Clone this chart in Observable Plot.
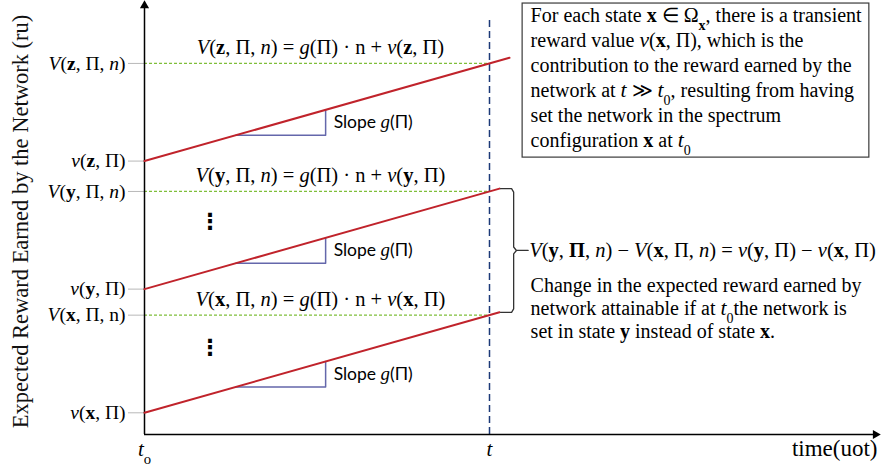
<!DOCTYPE html>
<html>
<head>
<meta charset="utf-8">
<script src="https://cdn.jsdelivr.net/npm/d3@7"></script>
<script src="https://cdn.jsdelivr.net/npm/@observablehq/plot@0.6"></script>
<style>
  html, body { margin: 0; padding: 0; background: #fff; }
  #chart svg { display: block; }
</style>
</head>
<body>
<div id="chart"></div>
<script>
// Network states, their transient reward values v(s, Π) and the common gain g(Π)
const states = ["z", "y", "x"];
const transientValue = [6.3, 3.35, 0.5];
const gain = 2.25;
const lineEnd = [1.058, 1.029, 1.029];

// Rich-text labels: [i:..] italic, [b:..] bold, [m:..] math italic, [sub:..] / [sb:..] subscripts
const levelLabelsV = ["[i:V]([b:z], Π, [i:n])", "[i:V]([b:y], Π, [i:n])", "[i:V]([b:x], Π, n)"];
const levelLabelsv = ["[i:v]([b:z], Π)", "[i:v]([b:y], Π)", "[i:v]([b:x], Π)"];
const equationLabels = [
  "[i:V]([b:z], Π, [i:n]) = [i:g](Π) · n + [i:v]([b:z], Π)",
  "[i:V]([b:y], Π, [i:n]) = [i:g](Π) · n + [i:v]([b:y], Π)",
  "[i:V]([b:x], Π, [i:n]) = [i:g](Π) · n + [i:v]([b:x], Π)"
];
const timeTicks = [0, 1];
const timeTickLabels = ["[i:t][sub:o]", "[i:t]"];
const ellipsisY = [4.9, 2.0];

const noteText = [
  "For each state [b:x] ∈ Ω[sb:x], there is a transient",
  "reward value [m:v]([b:x], Π), which is the",
  "contribution to the reward earned by the",
  "network at [m:t] ≫ [m:t][sub:0], resulting from having",
  "set the network in the spectrum",
  "configuration [b:x] at [m:t][sub:0]"
].join("\n");
const differenceLabel = "[i:V]([b:y], [b:Π], [i:n]) − [i:V]([b:x], Π, [i:n]) = [i:v]([b:y], Π) − [i:v]([b:x], Π)";
const differenceText = [
  "Change in the expected reward earned by",
  "network attainable if at [m:t][sub:0]the network is",
  "set in state [b:y] instead of state [b:x]."
].join("\n");

const rows = states.map((s, i) => ({
  s,
  v: transientValue[i],
  V: transientValue[i] + gain * 1,
  end: lineEnd[i],
  Vlabel: levelLabelsV[i],
  vlabel: levelLabelsv[i],
  eq: equationLabels[i]
}));

const value = (r, t) => r.v + gain * t;

// reward lines from t0 past t
const linePts = rows.flatMap(r => [
  {s: r.s, t: 0, y: r.v},
  {s: r.s, t: r.end, y: value(r, r.end)}
]);

// slope triangles under each line
const ta = 0.265, tb = 0.525;
const trianglePts = rows.flatMap(r => [
  {s: r.s, t: ta, y: value(r, ta)},
  {s: r.s, t: tb, y: value(r, ta)},
  {s: r.s, t: tb, y: value(r, tb)}
]);

// y-axis ticks at every V and v level
const tickValues = rows.flatMap(r => [r.V, r.v]);
const tickText = new Map(rows.flatMap(r => [[r.V, r.Vlabel], [r.v, r.vlabel]]));

// brace spanning the y and x lines at their ends
const rowY = rows[1], rowX = rows[2];
const braceTop = value(rowY, rowY.end);
const braceBot = value(rowX, rowX.end);
const braceMid = (braceTop + braceBot) / 2;
const bracePts = [
  {t: 1.032, y: braceTop}, {t: 1.064, y: braceTop}, {t: 1.07, y: braceTop - 0.08},
  {t: 1.07, y: braceMid + 0.08}, {t: 1.078, y: braceMid}, {t: 1.112, y: braceMid},
  {t: 1.078, y: braceMid}, {t: 1.07, y: braceMid - 0.08},
  {t: 1.07, y: braceBot + 0.08}, {t: 1.064, y: braceBot}, {t: 1.032, y: braceBot}
];

const serif = "Liberation Serif";

const chart = Plot.plot({
  width: 882,
  height: 470,
  marginLeft: 144,
  marginRight: 2,
  marginTop: 0,
  marginBottom: 36,
  x: {domain: [0, 736 / 345], axis: null},
  y: {domain: [0, 10], axis: null},
  style: {background: "white", color: "black", fontFamily: serif},
  marks: [
    // level guides
    Plot.ruleY(rows, {y: "V", x1: 0, x2: 1, stroke: "#7fbe3a", strokeWidth: 1.2, strokeDasharray: "3,2"}),
    Plot.ruleX(timeTicks.slice(1), {x: d => d, y1: 0, y2: 9.54, stroke: "#1c3a78", strokeWidth: 1.5, strokeDasharray: "7,4"}),
    // y ticks and labels
    Plot.axisY({
      ticks: tickValues,
      tickFormat: d => tickText.get(d),
      tickSize: 16,
      tickPadding: 3,
      stroke: "#b8b8b8",
      fill: "black",
      fontSize: 19.5,
      fontFamily: serif,
      label: null
    }),
    Plot.axisX({
      ticks: timeTicks,
      tickFormat: (d) => timeTickLabels[timeTicks.indexOf(d)],
      tickSize: 0,
      tickPadding: 7,
      fontSize: 21,
      fontFamily: serif,
      label: null
    }),
    // axes with arrowheads
    Plot.ruleX([0], {y1: 0, y2: 9.85, stroke: "black", strokeWidth: 1.5}),
    Plot.ruleY([0], {x1: 0, x2: 2.12, stroke: "black", strokeWidth: 1.5}),
    Plot.dot([0], {x: 0, y: 10, symbol: "triangle", r: 3.4, fill: "black", dy: 5}),
    Plot.dot([0], {x: 736 / 345, y: 0, symbol: "triangle", r: 3.4, fill: "black", rotate: 90, dx: -5}),
    // slope triangles
    Plot.line(trianglePts, {x: "t", y: "y", z: "s", stroke: "#6467ab", strokeWidth: 1.5}),
    Plot.text(rows, {
      x: () => tb, y: r => value(r, (ta + tb) / 2), text: () => "Slope [m:g](Π)",
      dx: 8, textAnchor: "start", fontFamily: "Lato", fontSize: 17.5, fill: "black"
    }),
    // reward lines
    Plot.line(linePts, {x: "t", y: "y", z: "s", stroke: "#c0232b", strokeWidth: 2}),
    // equations above each guide
    Plot.text(rows, {x: () => 0.51, y: "V", text: "eq", dy: -16, fontFamily: serif, fontSize: 20.5, fill: "black"}),
    Plot.text(ellipsisY, {x: () => 0.19, y: d => d, text: () => "⋮", fontFamily: "DejaVu Sans", fontWeight: "bold", fontSize: 22, fill: "black"}),
    // axis titles
    Plot.text(["Expected Reward Earned by the Network (ru)"], {
      frameAnchor: "left", textAnchor: "middle", dx: -124, dy: 4, rotate: -90, fontFamily: serif, fontSize: 22.5, fill: "#111"
    }),
    Plot.text(["time(uot)"], {
      frameAnchor: "bottom-right", textAnchor: "end", dx: -3, dy: 21, fontFamily: serif, fontSize: 23, fill: "black"
    }),
    // note box
    Plot.rect([0], {x1: 1.096, x2: 2.101, y1: 6.38, y2: 9.93, fill: "white", stroke: "#3a3a3a", strokeWidth: 1.2}),
    Plot.text([noteText], {
      x: () => 1.096, y: () => 9.93, dx: 8, dy: 1, textAnchor: "start", lineAnchor: "top",
      lineHeight: 1.25, fontFamily: serif, fontSize: 20, fill: "black"
    }),
    // brace and difference annotation
    Plot.line(bracePts, {x: "t", y: "y", stroke: "#333", strokeWidth: 1.3}),
    Plot.text([differenceLabel], {
      x: () => 1.112, y: () => braceMid, dx: 1, textAnchor: "start", fontFamily: serif, fontSize: 20.5, fill: "black"
    }),
    Plot.text([differenceText], {
      x: () => 1.096, y: () => braceMid, dx: 8, dy: 25, textAnchor: "start", lineAnchor: "top",
      lineHeight: 1.15, fontFamily: serif, fontSize: 20, fill: "black"
    })
  ]
});

// turn the bracket markup into styled tspans
function richText(svg) {
  const re = /\[(\w+):([^\]]*)\]/g;
  const ns = "http://www.w3.org/2000/svg";
  svg.querySelectorAll("text, tspan").forEach(el => {
    if ([...el.childNodes].some(n => n.nodeType !== 3)) return;
    const s = el.textContent;
    if (!s.includes("[")) return;
    el.textContent = "";
    let last = 0;
    for (const m of s.matchAll(re)) {
      if (m.index > last) el.append(s.slice(last, m.index));
      const span = document.createElementNS(ns, "tspan");
      span.textContent = m[2];
      const kind = m[1];
      if (kind === "i") span.setAttribute("font-style", "italic");
      if (kind === "b" || kind === "sb") span.setAttribute("font-weight", "bold");
      if (kind === "m") { span.setAttribute("font-style", "italic"); span.setAttribute("font-family", serif); span.setAttribute("font-size", "1.08em"); }
      if (kind === "sub" || kind === "sb") {
        span.setAttribute("font-size", "0.7em");
        span.setAttribute("baseline-shift", "sub");
      }
      el.append(span);
      last = m.index + m[0].length;
    }
    if (last < s.length) el.append(s.slice(last));
  });
}
richText(chart);
document.getElementById("chart").append(chart);
</script>
</body>
</html>
